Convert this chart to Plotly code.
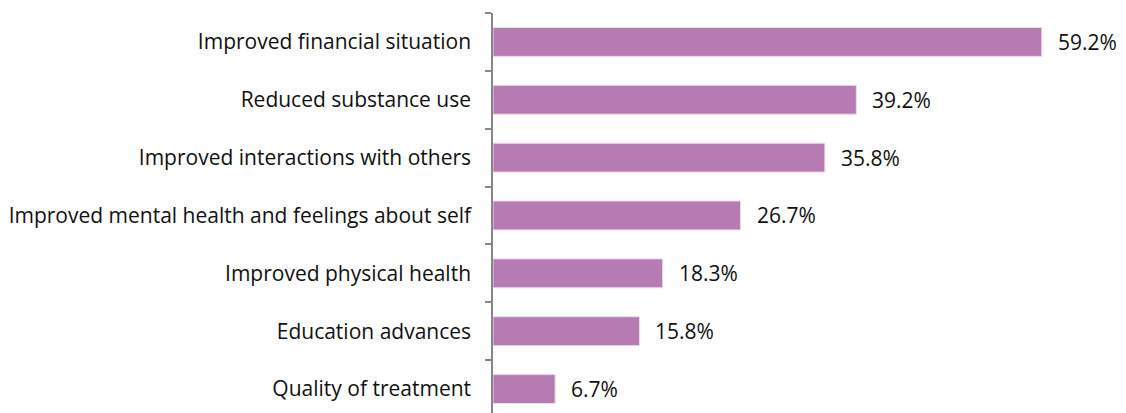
import plotly.graph_objects as go

# Outcome categories, listed top to bottom
categories = [
    "Improved financial situation",
    "Reduced substance use",
    "Improved interactions with others",
    "Improved mental health and feelings about self",
    "Improved physical health",
    "Education advances",
    "Quality of treatment",
]
percentages = [59.2, 39.2, 35.8, 26.7, 18.3, 15.8, 6.7]

FONT = "Open Sans"
FONT_SIZE = 21
BAR_COLOR = "#B77BB4"
AXIS_COLOR = "#868686"

# plotly stacks categories bottom-up, so reverse for a top-down reading order
y_cats = categories[::-1]
x_vals = percentages[::-1]

fig = go.Figure(
    go.Bar(
        x=x_vals,
        y=y_cats,
        orientation="h",
        width=0.5,
        marker=dict(color=BAR_COLOR, line=dict(color="#EBDDEA", width=1)),
        hoverinfo="skip",
    )
)

for cat, val in zip(y_cats, x_vals):
    fig.add_annotation(
        x=val,
        y=cat,
        text=f"{val}%",
        showarrow=False,
        xanchor="left",
        xshift=14,
        font=dict(family=FONT, size=FONT_SIZE, color="#111111"),
    )

fig.update_layout(
    width=1126,
    height=413,
    margin=dict(l=493, r=0, t=13, b=0),
    plot_bgcolor="white",
    paper_bgcolor="white",
    showlegend=False,
    font=dict(family=FONT, size=FONT_SIZE, color="#111111"),
    xaxis=dict(
        range=[0, 633 / 9.27],
        visible=False,
        fixedrange=True,
    ),
    yaxis=dict(
        type="category",
        range=[-0.414, 6.5],
        showline=True,
        linecolor=AXIS_COLOR,
        linewidth=1.5,
        ticks="outside",
        tickson="boundaries",
        ticklen=6,
        tickcolor=AXIS_COLOR,
        tickwidth=1.5,
        showgrid=False,
        ticklabelstandoff=16,
        tickfont=dict(family=FONT, size=FONT_SIZE, color="#111111"),
        fixedrange=True,
    ),
)

fig.write_html("out.html")
